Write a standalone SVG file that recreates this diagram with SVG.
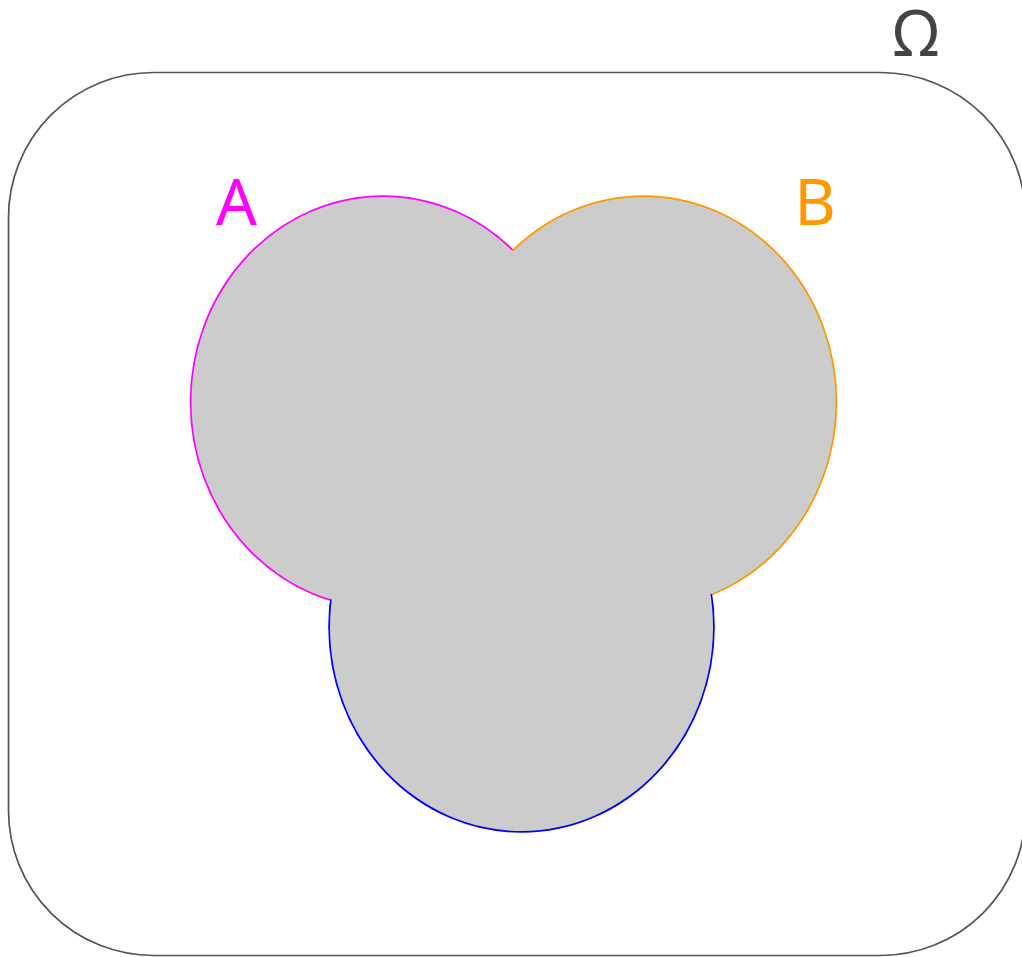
<svg xmlns="http://www.w3.org/2000/svg" width="1022" height="957" viewBox="0 0 1022 957">
<style>
.lbl{font-family:"Noto Sans","DejaVu Sans",sans-serif;font-size:64px;text-anchor:middle}
.fill{fill:#cccccc;stroke:none}
.edge{fill:none;stroke-width:3.6}
</style>
<rect width="1022" height="957" fill="#ffffff"/>
<g id="omega">
<rect x="8.5" y="72.5" width="1017" height="883" rx="145" ry="145" fill="none" stroke="#555555" stroke-width="1.7"/>
<text class="lbl" x="916" y="56" fill="#444444">Ω</text>
</g>
<g id="edges">
<ellipse class="edge" cx="383" cy="402" rx="191.5" ry="205" stroke="#ff00ff"/>
<ellipse class="edge" cx="643.5" cy="402" rx="192" ry="205" stroke="#ff9900"/>
<ellipse class="edge" cx="521.5" cy="627" rx="191.5" ry="204" stroke="#0000ff"/>
</g>
<g id="setA">
<ellipse class="fill" cx="383" cy="402" rx="191.5" ry="205"/>
<text class="lbl" x="236.5" y="225" fill="#ff00ff">A</text>
</g>
<g id="setB">
<ellipse class="fill" cx="643.5" cy="402" rx="192" ry="205"/>
<text class="lbl" x="815" y="225" fill="#ff9900">B</text>
</g>
<g id="setC">
<ellipse class="fill" cx="521.5" cy="627" rx="191.5" ry="204"/>
</g>
</svg>
